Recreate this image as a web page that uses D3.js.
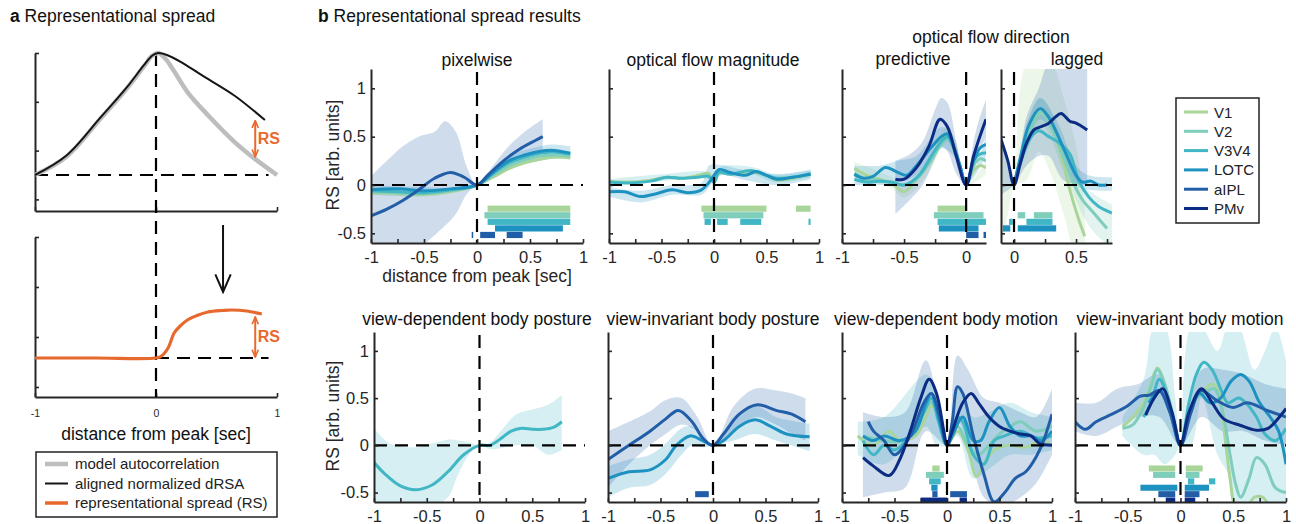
<!DOCTYPE html>
<html>
<head>
<meta charset="utf-8">
<script src="https://cdn.jsdelivr.net/npm/d3@7"></script>
<style>
  body { margin: 0; background: #fff; }
  svg { display: block; font-family: "Liberation Sans", Arial, Helvetica, sans-serif; }
</style>
</head>
<body>
<svg id="fig" width="1296" height="524"></svg>
<script>
// ---------- data ----------
const regions = ["V1", "V2", "V3V4", "LOTC", "aIPL", "PMv"];
const regionColors = ["#a9d59b", "#7fcdbb", "#41b6c4", "#1d91c0", "#225ea8", "#0c2c84"];
const xTickVals = [-1, -0.75, -0.5, -0.25, 0, 0.25, 0.5, 0.75, 1];
const yTickVals = [-0.5, 0, 0.5, 1];

// panel a (schematic)
const modelAuto = [[-1,0],[-0.74,0.15],[-0.46,0.46],[-0.24,0.71],[-0.1,0.89],[-0.03,0.98],[0.02,1],[0.08,0.95],[0.15,0.85],[0.26,0.68],[0.43,0.49],[0.65,0.27],[0.82,0.13],[1,0]];
const alignedDRSA = [[-1,0],[-0.74,0.16],[-0.46,0.47],[-0.24,0.72],[-0.1,0.9],[-0.03,0.98],[0.02,1],[0.1,0.98],[0.2,0.93],[0.375,0.82],[0.65,0.65],[0.9,0.45]];
const rsCurve = [[-1,0],[-0.5,0],[0,0],[0.04,0.03],[0.1,0.2],[0.15,0.5],[0.2,0.64],[0.26,0.76],[0.35,0.86],[0.43,0.92],[0.55,0.95],[0.625,0.96],[0.75,0.94],[0.875,0.88]];
const legendA = ["model autocorrelation", "aligned normalized dRSA", "representational spread (RS)"];

// pixelwise
const pxV1 = [[-1,-0.08],[-0.75,-0.09],[-0.5,-0.1],[-0.25,-0.07],[0,0],[0.15,0.08],[0.3,0.17],[0.45,0.23],[0.6,0.27],[0.75,0.29],[0.88,0.28]];
const pxV2 = [[-1,-0.07],[-0.75,-0.08],[-0.5,-0.09],[-0.25,-0.06],[0,0],[0.15,0.1],[0.3,0.2],[0.45,0.26],[0.6,0.3],[0.75,0.31],[0.88,0.3]];
const pxV3V4 = [[-1,-0.06],[-0.75,-0.07],[-0.5,-0.08],[-0.25,-0.05],[0,0],[0.15,0.12],[0.3,0.23],[0.45,0.29],[0.6,0.33],[0.75,0.34],[0.88,0.32]];
const pxLOTC = [[-1,-0.05],[-0.75,-0.04],[-0.5,-0.06],[-0.25,-0.04],[0,0],[0.15,0.13],[0.3,0.25],[0.45,0.31],[0.6,0.35],[0.7,0.36],[0.88,0.33]];
const pxAIPL = [[-1,-0.32],[-0.85,-0.25],[-0.7,-0.16],[-0.55,-0.05],[-0.4,0.07],[-0.25,0.13],[-0.12,0.08],[0,0],[0.1,0.1],[0.25,0.25],[0.4,0.37],[0.55,0.46],[0.62,0.5]];
const pxLOTCband = [[-1,-0.1,0],[-0.5,-0.11,-0.02],[0,0,0],[0.3,0.18,0.3],[0.6,0.25,0.4],[0.7,0.27,0.42],[0.88,0.27,0.4]];
const pxAIPLband = [[-1,-0.7,0.09],[-0.85,-0.7,0.25],[-0.7,-0.7,0.4],[-0.55,-0.65,0.5],[-0.4,-0.52,0.55],[-0.3,-0.42,0.66],[-0.2,-0.3,0.55],[-0.1,-0.1,0.2],[0,0,0],[0.15,0.08,0.2],[0.3,0.2,0.4],[0.45,0.3,0.55],[0.62,0.36,0.68]];
const pxSig = [[0,0.1,0.88],[1,0.07,0.88],[2,0.1,0.88],[3,0.17,0.81],[4,-0.05,-0.04],[4,0.03,0.17],[4,0.28,0.43]];

// optical flow magnitude
const ofV1 = [[-1,0.04],[-0.8,0.03],[-0.6,0.05],[-0.45,0.08],[-0.3,0.07],[-0.15,0.1],[-0.05,0.12],[0,0.03],[0.05,0.14],[0.15,0.12],[0.3,0.12],[0.4,0.13],[0.5,0.1],[0.6,0.05],[0.75,0.07],[0.92,0.11]];
const ofV3V4 = [[-1,0.03],[-0.8,0.02],[-0.6,0.04],[-0.45,0.08],[-0.3,0.07],[-0.15,0.08],[-0.05,0.09],[0,0.03],[0.05,0.13],[0.15,0.11],[0.35,0.15],[0.5,0.1],[0.6,0.07],[0.75,0.08],[0.92,0.12]];
const ofLOTC = [[-1,-0.07],[-0.85,-0.07],[-0.7,-0.12],[-0.55,-0.09],[-0.4,-0.05],[-0.25,-0.08],[-0.12,-0.05],[-0.03,0.05],[0.05,0.16],[0.15,0.13],[0.3,0.1],[0.4,0.14],[0.5,0.1],[0.6,0.06],[0.75,0.08],[0.92,0.11]];
const ofV3V4band = [[-1,0,0.06],[-0.5,0.04,0.11],[-0.05,0.06,0.13],[0,0,0.06],[0.05,0.09,0.18],[0.35,0.11,0.19],[0.6,0.03,0.11],[0.92,0.08,0.15]];
const ofLOTCband = [[-1,-0.12,-0.02],[-0.7,-0.18,-0.06],[-0.4,-0.1,0],[-0.12,-0.1,0.02],[-0.05,-0.03,0.2],[0.05,0.1,0.21],[0.3,0.05,0.15],[0.6,0.0,0.11],[0.92,0.06,0.16]];
const ofSig = [[0,-0.12,0.5],[0,0.78,0.92],[1,-0.1,0.47],[2,-0.09,-0.03],[2,0.03,0.13],[2,0.25,0.45],[2,0.9,0.92]];

// optical flow direction, predictive
const prV1 = [[-0.9,0.17],[-0.8,0.1],[-0.7,0.06],[-0.6,0.02],[-0.5,-0.07],[-0.42,0.03],[-0.32,0.2],[-0.22,0.42],[-0.15,0.52],[-0.1,0.42],[-0.05,0.2],[0,0],[0.06,0.15],[0.11,0.2],[0.16,0.18]];
const prV2 = [[-0.9,0.12],[-0.8,0.06],[-0.7,0.05],[-0.6,0.02],[-0.5,0],[-0.4,0.06],[-0.3,0.22],[-0.2,0.42],[-0.15,0.48],[-0.1,0.38],[-0.05,0.2],[0,0],[0.06,0.2],[0.11,0.27],[0.16,0.25]];
const prV3V4 = [[-0.9,0.06],[-0.8,0.03],[-0.7,0.04],[-0.6,0.03],[-0.5,0],[-0.38,0.1],[-0.28,0.3],[-0.2,0.45],[-0.15,0.5],[-0.1,0.38],[-0.05,0.2],[0,0],[0.06,0.25],[0.11,0.32],[0.16,0.33]];
const prLOTC = [[-0.9,0.11],[-0.83,0.07],[-0.75,0.09],[-0.65,0.18],[-0.55,0.13],[-0.48,0.1],[-0.4,0.2],[-0.3,0.36],[-0.2,0.5],[-0.15,0.53],[-0.1,0.4],[-0.05,0.2],[0,0],[0.06,0.25],[0.11,0.38],[0.16,0.42]];
const prPMv = [[-0.57,0.06],[-0.5,0.06],[-0.4,0.18],[-0.3,0.4],[-0.21,0.68],[-0.15,0.6],[-0.08,0.3],[0,0],[0.06,0.3],[0.11,0.5],[0.16,0.68]];
const prV1band = [[-0.9,0.1,0.24],[-0.6,-0.04,0.08],[-0.5,-0.13,-0.01],[-0.3,0.13,0.27],[-0.15,0.45,0.59],[0,0,0],[0.16,0.11,0.25]];
const prLOTCband = [[-0.9,0,0.2],[-0.7,0,0.2],[-0.55,0.02,0.25],[-0.4,0.1,0.3],[-0.2,0.38,0.6],[-0.1,0.3,0.5],[0,0,0],[0.16,0.3,0.5]];
const prPMvBand = [[-0.57,-0.3,0.25],[-0.45,-0.15,0.32],[-0.35,0,0.45],[-0.25,0.28,0.78],[-0.2,0.4,0.9],[-0.15,0.35,0.85],[-0.08,0.12,0.45],[0,0,0],[0.06,0.15,0.45],[0.11,0.35,0.7],[0.16,0.5,0.88]];
const prSig = [[0,-0.23,0],[1,-0.26,0.14],[2,-0.23,0.16],[3,-0.22,0.1],[4,0,0.1],[4,0.14,0.16]];

// optical flow direction, lagged
const lgV1 = [[0,0],[0.07,0.35],[0.14,0.6],[0.22,0.75],[0.3,0.6],[0.38,0.3],[0.45,-0.05],[0.52,-0.35],[0.57,-0.53]];
const lgV2 = [[0,0],[0.07,0.35],[0.14,0.6],[0.22,0.76],[0.3,0.6],[0.4,0.28],[0.48,0.02],[0.55,-0.15],[0.65,-0.3],[0.75,-0.45]];
const lgV3V4 = [[0,0],[0.07,0.3],[0.14,0.5],[0.2,0.56],[0.28,0.5],[0.36,0.44],[0.45,0.32],[0.52,0.05],[0.6,-0.12],[0.68,-0.22],[0.79,-0.29]];
const lgLOTC = [[0,0],[0.06,0.33],[0.12,0.62],[0.21,0.79],[0.27,0.72],[0.34,0.55],[0.42,0.32],[0.5,0.1],[0.55,0.03],[0.62,0.04],[0.68,0],[0.75,0]];
const lgPMv = [[-0.105,0.47],[-0.05,0.25],[0,0],[0.05,0.22],[0.1,0.43],[0.16,0.57],[0.21,0.6],[0.28,0.64],[0.33,0.7],[0.38,0.74],[0.45,0.66],[0.5,0.64],[0.59,0.57]];
const lgV1band = [[-0.105,-0.7,0.55],[-0.02,-0.1,0.1],[0,0,0],[0.1,0.05,1.25],[0.2,0.35,1.25],[0.3,0.1,1.25],[0.4,-0.3,0.9],[0.5,-0.7,0.4],[0.57,-0.7,-0.2]];
const lgV2band = [[0,0,0],[0.1,0.35,0.6],[0.22,0.62,0.9],[0.4,0.15,0.42],[0.55,-0.3,0.0],[0.65,-0.5,-0.1],[0.79,-0.65,-0.2]];
const lgLOTCband = [[0,0,0],[0.1,0.4,0.62],[0.21,0.68,0.9],[0.35,0.45,0.65],[0.5,0.0,0.2],[0.6,-0.05,0.1],[0.79,-0.06,0.08]];
const lgPMvBand = [[-0.105,-0.1,0.6],[0,0,0],[0.1,0.2,0.7],[0.2,0.3,1.0],[0.28,0.3,1.25],[0.4,0.05,1.25],[0.59,0.0,1.25]];
const lgSig = [[1,0.03,0.09],[1,0.16,0.31],[2,-0.04,-0.01],[2,0.1,0.31],[3,-0.09,-0.03],[3,0.03,0.34]];

// view-dependent body posture
const bp1V3V4 = [[-1,-0.18],[-0.9,-0.3],[-0.75,-0.43],[-0.6,-0.47],[-0.45,-0.42],[-0.3,-0.28],[-0.15,-0.1],[0,0],[0.1,0],[0.2,0.07],[0.3,0.15],[0.4,0.18],[0.5,0.17],[0.6,0.17],[0.7,0.19],[0.78,0.25]];
const bp1V3V4band = [[-1,-0.65,0.18],[-0.85,-0.65,0.02],[-0.6,-0.65,-0.02],[-0.45,-0.65,0.02],[-0.3,-0.55,0.06],[-0.2,-0.3,0.05],[-0.1,-0.1,0.03],[0,0,0],[0.1,-0.04,0.03],[0.2,-0.03,0.15],[0.35,0,0.33],[0.5,0,0.38],[0.65,-0.1,0.43],[0.78,-0.05,0.53]];

// view-invariant body posture
const bp2LOTC = [[-1,-0.35],[-0.8,-0.28],[-0.6,-0.26],[-0.45,-0.15],[-0.35,0],[-0.22,0.1],[-0.1,0.05],[0,0],[0.1,0.05],[0.25,0.2],[0.4,0.27],[0.55,0.2],[0.7,0.12],[0.92,0.09]];
const bp2AIPL = [[-1,-0.15],[-0.8,0],[-0.6,0.15],[-0.45,0.28],[-0.33,0.37],[-0.2,0.25],[-0.1,0.08],[0,0],[0.1,0.12],[0.25,0.33],[0.42,0.43],[0.6,0.37],[0.75,0.33],[0.88,0.25]];
const bp2LOTCband = [[-1,-0.55,-0.22],[-0.8,-0.45,-0.15],[-0.6,-0.42,-0.1],[-0.45,-0.3,0.02],[-0.3,-0.1,0.18],[-0.2,0,0.2],[-0.1,-0.02,0.1],[0,0,0],[0.2,0.05,0.3],[0.4,0.12,0.42],[0.6,0.05,0.3],[0.8,-0.02,0.25],[0.92,-0.06,0.23]];
const bp2AIPLband = [[-1,-0.45,0.15],[-0.8,-0.2,0.25],[-0.6,0,0.36],[-0.45,0.12,0.48],[-0.3,0.22,0.5],[-0.15,0.15,0.3],[0,0,0],[0.2,0.15,0.42],[0.4,0.3,0.6],[0.6,0.22,0.58],[0.75,0.12,0.55],[0.88,0.05,0.5]];
const bp2Sig = [[4,-0.17,-0.04]];

// view-dependent body motion
const bm1V1 = [[-0.85,0.1],[-0.7,0],[-0.55,0.15],[-0.45,0.05],[-0.3,0.1],[-0.2,0.3],[-0.15,0.42],[-0.05,0.2],[0,0],[0.1,0.15],[0.2,-0.05],[0.28,-0.33],[0.35,-0.2],[0.45,-0.05],[0.6,0],[0.75,-0.02],[0.9,0.05],[1,0]];
const bm1V2 = [[-0.8,0.1],[-0.6,0.05],[-0.4,0.05],[-0.25,0.3],[-0.15,0.45],[-0.05,0.2],[0,0],[0.1,0.2],[0.2,0],[0.3,-0.1],[0.4,0],[0.5,0.12],[0.6,0.2],[0.7,0.25],[0.85,0.15],[1,0.2]];
const bm1V3V4 = [[-0.8,0.05],[-0.7,-0.1],[-0.6,0],[-0.5,-0.05],[-0.35,0.1],[-0.22,0.35],[-0.15,0.5],[-0.08,0.25],[0,0],[0.1,0.3],[0.15,0.25],[0.25,-0.1],[0.35,-0.2],[0.45,0.05],[0.55,0.1],[0.7,0.15],[0.85,0.08],[1,0.1]];
const bm1LOTC = [[-0.8,0.1],[-0.7,0.05],[-0.6,0.1],[-0.45,0.05],[-0.3,0.15],[-0.2,0.45],[-0.15,0.55],[-0.08,0.3],[0,0],[0.05,0.1],[0.15,0.3],[0.25,0.05],[0.32,0.05],[0.4,0.25],[0.5,0.4],[0.6,0.2],[0.7,0.1],[0.8,0.1],[0.9,0.05],[1,0.15]];
const bm1AIPL = [[-0.75,0.25],[-0.7,0.15],[-0.6,0.05],[-0.5,-0.1],[-0.35,0.1],[-0.22,0.45],[-0.15,0.55],[-0.08,0.35],[0,0],[0.05,0.25],[0.1,0.62],[0.15,0.55],[0.25,0.1],[0.35,-0.3],[0.45,-0.6],[0.55,-0.5],[0.65,-0.35],[0.75,-0.28],[0.85,-0.12],[0.92,0.05],[1,0.33]];
const bm1PMv = [[-0.8,-0.13],[-0.7,-0.22],[-0.55,-0.32],[-0.45,-0.15],[-0.35,0.15],[-0.25,0.5],[-0.17,0.7],[-0.1,0.55],[-0.03,0.15],[0,0],[0.05,0.15],[0.15,0.45],[0.23,0.55],[0.3,0.45],[0.4,0.3],[0.5,0.2],[0.6,0.15],[0.7,0.12],[0.8,0.1],[0.88,0.02],[1,0]];
const bm1V3V4band = [[-0.85,-0.1,0.25],[-0.6,-0.2,0.3],[-0.2,0.2,0.75],[-0.1,0,0.6],[0,0,0],[0.1,0.1,0.6],[0.25,-0.35,0.3],[0.4,-0.25,0.35],[0.6,-0.1,0.45],[0.8,-0.1,0.35],[1,-0.05,0.3]];
const bm1AIPLband = [[-0.8,-0.55,0.35],[-0.6,-0.5,0.3],[-0.4,-0.45,0.35],[-0.2,0.15,0.9],[0,0,0],[0.1,0.25,0.95],[0.2,0,0.8],[0.35,-0.55,0.5],[0.5,-0.65,0.45],[0.7,-0.55,0.35],[0.85,-0.4,0.3],[1,-0.1,0.6]];
const bm1Sig = [[0,-0.14,-0.07],[1,-0.2,-0.03],[2,-0.17,-0.06],[3,-0.15,-0.09],[4,-0.14,-0.09],[4,0.03,0.19],[5,-0.25,0],[5,0.12,0.19]];

// view-invariant body motion
const bm2V1 = [[-0.55,0.2],[-0.45,0.3],[-0.35,0.45],[-0.28,0.65],[-0.22,0.82],[-0.15,0.65],[-0.07,0.3],[0,0],[0.08,0.3],[0.15,0.5],[0.22,0.58],[0.3,0.65],[0.37,0.55],[0.42,0.1],[0.47,-0.35],[0.52,-0.65],[0.6,-0.7],[0.7,-0.55],[0.78,-0.55],[0.88,-0.7],[1,-0.7]];
const bm2V2 = [[-0.55,0.18],[-0.45,0.22],[-0.35,0.4],[-0.28,0.62],[-0.22,0.8],[-0.15,0.65],[-0.07,0.3],[0,0],[0.08,0.3],[0.15,0.5],[0.22,0.55],[0.32,0.6],[0.4,0.35],[0.47,-0.1],[0.52,-0.4],[0.57,-0.55],[0.65,-0.35],[0.72,-0.13],[0.8,-0.2],[0.9,-0.45],[1,-0.5]];
const bm2V3V4 = [[-0.35,0.3],[-0.28,0.45],[-0.2,0.7],[-0.12,0.5],[-0.05,0.2],[0,0],[0.08,0.45],[0.15,0.75],[0.22,0.88],[0.3,0.8],[0.38,0.6],[0.45,0.45],[0.55,0.5],[0.62,0.45],[0.72,0.3],[0.8,0.12],[0.9,0.05],[1,0.18]];
const bm2LOTC = [[-0.3,0.45],[-0.2,0.58],[-0.1,0.35],[0,0],[0.08,0.3],[0.18,0.55],[0.28,0.45],[0.38,0.5],[0.48,0.68],[0.57,0.75],[0.65,0.68],[0.75,0.45],[0.85,0.3],[0.93,0.15],[1,-0.2]];
const bm2AIPL = [[-1,0.25],[-0.9,0.17],[-0.8,0.25],[-0.65,0.33],[-0.5,0.42],[-0.38,0.52],[-0.3,0.53],[-0.2,0.58],[-0.1,0.35],[0,0],[0.1,0.35],[0.19,0.58],[0.35,0.47],[0.5,0.4],[0.63,0.45],[0.82,0.37],[1,0.3]];
const bm2PMv = [[-0.33,0.32],[-0.25,0.5],[-0.17,0.6],[-0.08,0.35],[0,0],[0.08,0.35],[0.2,0.6],[0.3,0.45],[0.41,0.28],[0.57,0.21],[0.72,0.16],[0.83,0.18],[1,0.39]];
const bm2V3V4band = [[-0.55,0.1,0.3],[-0.35,-0.1,0.7],[-0.25,-0.1,1.25],[-0.15,-0.2,1.25],[-0.05,-0.1,0.5],[0,0,0],[0.1,0,1.25],[0.2,0.5,1.25],[0.35,-0.1,1],[0.45,-0.3,1.25],[0.55,-0.7,1.25],[0.7,-0.7,0.8],[0.8,-0.7,1],[0.9,-0.7,1.25],[1,-0.7,0.9]];
const bm2AIPLband = [[-1,0.15,0.45],[-0.8,0.1,0.45],[-0.6,0.2,0.6],[-0.4,0.3,0.65],[-0.2,0.3,0.75],[0,0,0],[0.2,0.3,0.8],[0.4,0.15,0.8],[0.6,0.15,0.75],[0.8,0.05,0.65],[1,0,0.6]];
const bm2Sig = [[0,-0.3,-0.05],[0,0.05,0.21],[1,-0.26,-0.05],[1,0.05,0.18],[2,0.07,0.13],[2,0.27,0.33],[3,-0.38,-0.03],[3,0.04,0.27],[4,-0.21,-0.05],[4,0.04,0.18],[5,-0.14,-0.05],[5,0.04,0.14]];

// ---------- layout ----------
const svg = d3.select("#fig");
const defs = svg.append("defs");
const axisColor = "#262626";
const rsColor = "#e8692e";
const smooth = d3.curveCatmullRom.alpha(0.5);

function addMarker(id, color, size, sw) {
  defs.append("marker").attr("id", id)
    .attr("viewBox", "0 0 10 10").attr("refX", 9).attr("refY", 5)
    .attr("markerWidth", size).attr("markerHeight", size)
    .attr("markerUnits", "userSpaceOnUse").attr("orient", "auto-start-reverse")
    .append("path").attr("d", "M1,1.5 L9,5 L1,8.5")
    .attr("fill", "none").attr("stroke", color).attr("stroke-width", sw);
}
addMarker("headRS", rsColor, 9, 1.8);
addMarker("headBlack", "#111", 22, 0.9);

function styleAxis(g) {
  g.select(".domain").attr("stroke", axisColor).attr("stroke-width", 2);
  g.selectAll(".tick line").attr("stroke", axisColor).attr("stroke-width", 1.6);
  g.selectAll(".tick text").attr("fill", axisColor);
}

function dashed(g, x1, y1, x2, y2) {
  g.append("line").attr("x1", x1).attr("y1", y1).attr("x2", x2).attr("y2", y2)
    .attr("stroke", "#000").attr("stroke-width", 2.2).attr("stroke-dasharray", "13,8");
}

// ---------- panel a ----------
const gA = svg.append("g");
gA.append("text").attr("x", 10).attr("y", 22).attr("font-size", 17.5).attr("fill", "#111")
  .html('<tspan font-weight="bold">a</tspan> Representational spread');

const axA = d3.scaleLinear().domain([-1, 1]).range([35, 277]);
const ayTop = d3.scaleLinear().domain([-0.295, 1]).range([211, 53]);
const ayBot = d3.scaleLinear().domain([-0.78, 2.42]).range([397, 237]);

gA.append("g").attr("transform", `translate(0,${ayTop.range()[0]})`)
  .call(d3.axisBottom(axA).tickValues([-1, 0, 1]).tickSize(-4).tickSizeOuter(0).tickFormat(""))
  .call(styleAxis);
gA.append("g").attr("transform", `translate(${axA.range()[0]},0)`)
  .call(d3.axisLeft(ayTop).tickValues([-0.2, 0.2, 0.6, 1]).tickSize(-4).tickSizeOuter(0).tickFormat(""))
  .call(styleAxis);
const gAbx = gA.append("g").attr("transform", `translate(0,${ayBot.range()[0]})`)
  .call(d3.axisBottom(axA).tickValues([-1, 0, 1]).tickSize(-4).tickSizeOuter(0).tickPadding(13).tickFormat(d => String(d)))
  .call(styleAxis);
gAbx.selectAll(".tick text").attr("font-size", 10.5).attr("font-family", null);
gA.append("g").attr("transform", `translate(${axA.range()[0]},0)`)
  .call(d3.axisLeft(ayBot).tickValues([-0.58, 0.42, 1.42, 2.42]).tickSize(-4).tickSizeOuter(0).tickFormat(""))
  .call(styleAxis);

const lineTop = d3.line().x(d => axA(d[0])).y(d => ayTop(d[1])).curve(smooth);
const lineBot = d3.line().x(d => axA(d[0])).y(d => ayBot(d[1])).curve(smooth);

dashed(gA, axA(-1), ayTop(0), axA(0.93), ayTop(0));
dashed(gA, axA(0), ayBot(0), axA(0.93), ayBot(0));
dashed(gA, axA(0), ayTop(1), axA(0), ayBot(-0.78));

gA.append("path").attr("d", lineTop(modelAuto)).attr("fill", "none")
  .attr("stroke", "#bdbdbd").attr("stroke-width", 4.5);
gA.append("path").attr("d", lineTop(alignedDRSA)).attr("fill", "none")
  .attr("stroke", "#151515").attr("stroke-width", 2);
gA.append("path").attr("d", lineBot(rsCurve)).attr("fill", "none")
  .attr("stroke", rsColor).attr("stroke-width", 3.2);

// RS arrows
gA.append("line").attr("x1", axA(0.82)).attr("x2", axA(0.82)).attr("y1", ayTop(0.445)).attr("y2", ayTop(0.15))
  .attr("stroke", rsColor).attr("stroke-width", 2)
  .attr("marker-start", "url(#headRS)").attr("marker-end", "url(#headRS)");
gA.append("text").attr("x", axA(0.84)).attr("y", 144).attr("font-size", 16).attr("font-weight", "bold")
  .attr("fill", rsColor).text("RS");
gA.append("line").attr("x1", axA(0.82)).attr("x2", axA(0.82)).attr("y1", ayBot(0.82)).attr("y2", ayBot(0.02))
  .attr("stroke", rsColor).attr("stroke-width", 2)
  .attr("marker-start", "url(#headRS)").attr("marker-end", "url(#headRS)");
gA.append("text").attr("x", axA(0.84)).attr("y", 342).attr("font-size", 16).attr("font-weight", "bold")
  .attr("fill", rsColor).text("RS");

// big arrow between the two schematics
gA.append("line").attr("x1", axA(0.554)).attr("x2", axA(0.554)).attr("y1", 225).attr("y2", 292)
  .attr("stroke", "#111").attr("stroke-width", 2).attr("marker-end", "url(#headBlack)");

gA.append("text").attr("x", axA(0)).attr("y", 440).attr("text-anchor", "middle")
  .attr("font-size", 17.5).attr("fill", "#111").text("distance from peak [sec]");

// legend a
gA.append("rect").attr("x", 36).attr("y", 452).attr("width", 241).attr("height", 65)
  .attr("fill", "#fff").attr("stroke", "#222").attr("stroke-width", 1.5);
const legAStroke = [["#bdbdbd", 4.5], ["#151515", 2], [rsColor, 3.5]];
legendA.forEach((t, i) => {
  const y = 464 + i * 19.5;
  gA.append("line").attr("x1", 45).attr("x2", 68).attr("y1", y).attr("y2", y)
    .attr("stroke", legAStroke[i][0]).attr("stroke-width", legAStroke[i][1]);
  gA.append("text").attr("x", 75).attr("y", y + 5).attr("font-size", 15).attr("fill", "#222").text(t);
});

// ---------- panel b ----------
svg.append("text").attr("x", 318).attr("y", 22).attr("font-size", 17.5).attr("fill", "#111")
  .html('<tspan font-weight="bold">b</tspan> Representational spread results');

const rows = [{ y: [243, 69] }, { y: [502, 332] }];
const yDomain = [-0.6, 1.2];

const panels = [
  { title: "pixelwise", tx: 477, ty: 66, x: [371, 583], dom: [-1, 1], row: 0, yLab: true,
    series: [[0, pxV1], [1, pxV2], [2, pxV3V4], [3, pxLOTC], [4, pxAIPL]],
    bands: [[3, pxLOTCband], [4, pxAIPLband]], sig: pxSig },
  { title: "optical flow magnitude", tx: 713, ty: 66, x: [609, 819], dom: [-1, 1], row: 0,
    series: [[0, ofV1], [2, ofV3V4], [3, ofLOTC]],
    bands: [[2, ofV3V4band], [3, ofLOTCband]], sig: ofSig },
  { title: "predictive", tx: 913, ty: 65, x: [842, 986], dom: [-1, 0.16], row: 0,
    series: [[0, prV1], [1, prV2], [2, prV3V4], [3, prLOTC], [5, prPMv]],
    bands: [[0, prV1band], [3, prLOTCband], [4, prPMvBand]], sig: prSig },
  { title: "lagged", tx: 1077, ty: 65, x: [1001, 1112], dom: [-0.105, 0.79], row: 0,
    series: [[0, lgV1], [1, lgV2], [2, lgV3V4], [3, lgLOTC], [5, lgPMv]],
    bands: [[0, lgV1band], [1, lgV2band], [3, lgLOTCband], [4, lgPMvBand]], sig: lgSig },
  { title: "view-dependent body posture", tx: 477, ty: 325, x: [374, 585], dom: [-1, 1], row: 1, yLab: true,
    series: [[2, bp1V3V4]], bands: [[2, bp1V3V4band]], sig: [] },
  { title: "view-invariant body posture", tx: 713, ty: 325, x: [608, 818], dom: [-1, 1], row: 1,
    series: [[3, bp2LOTC], [4, bp2AIPL]], bands: [[3, bp2LOTCband], [4, bp2AIPLband]], sig: bp2Sig },
  { title: "view-dependent body motion", tx: 946, ty: 325, x: [842, 1052], dom: [-1, 1], row: 1,
    series: [[0, bm1V1], [1, bm1V2], [2, bm1V3V4], [3, bm1LOTC], [4, bm1AIPL], [5, bm1PMv]],
    bands: [[2, bm1V3V4band], [4, bm1AIPLband]], sig: bm1Sig },
  { title: "view-invariant body motion", tx: 1180, ty: 325, x: [1075, 1286], dom: [-1, 1], row: 1,
    series: [[0, bm2V1], [1, bm2V2], [2, bm2V3V4], [3, bm2LOTC], [4, bm2AIPL], [5, bm2PMv]],
    bands: [[2, bm2V3V4band], [4, bm2AIPLband]], sig: bm2Sig }
];

const sigTop = -0.245, sigStep = 0.068, sigH = 0.064;

panels.forEach((p, k) => {
  const g = svg.append("g");
  const xs = d3.scaleLinear().domain(p.dom).range(p.x);
  const ys = d3.scaleLinear().domain(yDomain).range(rows[p.row].y);
  const top = ys(yDomain[1]), bot = ys(yDomain[0]);

  defs.append("clipPath").attr("id", "clip" + k).append("rect")
    .attr("x", p.x[0]).attr("y", top).attr("width", p.x[1] - p.x[0]).attr("height", bot - top);
  const plot = g.append("g").attr("clip-path", `url(#clip${k})`);

  const area = d3.area().x(d => xs(d[0])).y0(d => ys(d[1])).y1(d => ys(d[2])).curve(smooth);
  const line = d3.line().x(d => xs(d[0])).y(d => ys(d[1])).curve(smooth);

  p.bands.forEach(([ri, arr]) => {
    plot.append("path").attr("d", area(arr)).attr("fill", regionColors[ri]).attr("fill-opacity", 0.22);
  });
  p.series.forEach(([ri, arr]) => {
    plot.append("path").attr("d", line(arr)).attr("fill", "none")
      .attr("stroke", regionColors[ri]).attr("stroke-width", 3).attr("stroke-linejoin", "round");
  });
  p.sig.forEach(([ri, a, b]) => {
    const c = sigTop - sigStep * ri;
    plot.append("rect").attr("x", xs(a)).attr("width", Math.max(1.5, xs(b) - xs(a)))
      .attr("y", ys(c + sigH / 2)).attr("height", ys(c - sigH / 2) - ys(c + sigH / 2))
      .attr("fill", regionColors[ri]);
  });

  dashed(g, p.x[0], ys(0), p.x[1], ys(0));
  dashed(g, xs(0), top + 3, xs(0), bot);

  const xt = xTickVals.filter(v => v >= p.dom[0] - 1e-9 && v <= p.dom[1] + 1e-9);
  const gx = g.append("g").attr("transform", `translate(0,${bot})`)
    .call(d3.axisBottom(xs).tickValues(xt).tickSize(-4).tickSizeOuter(0).tickPadding(8)
      .tickFormat(v => Math.abs(v * 2 - Math.round(v * 2)) < 1e-9 ? String(v) : ""))
    .call(styleAxis);
  gx.selectAll(".tick text").attr("font-size", 16.5).attr("font-family", null);
  const gy = g.append("g").attr("transform", `translate(${p.x[0]},0)`)
    .call(d3.axisLeft(ys).tickValues(yTickVals).tickSize(-4).tickSizeOuter(0).tickPadding(5)
      .tickFormat(p.yLab ? (v => String(v)) : ""))
    .call(styleAxis);
  gy.selectAll(".tick text").attr("font-size", 16.5).attr("font-family", null);

  g.append("text").attr("x", p.tx).attr("y", p.ty).attr("text-anchor", "middle")
    .attr("font-size", 17.5).attr("fill", "#111").text(p.title);

  if (p.yLab) {
    const cy = (top + bot) / 2 - 1;
    g.append("text").attr("transform", `translate(339,${cy}) rotate(-90)`)
      .attr("text-anchor", "middle").attr("font-size", 17.5).attr("fill", axisColor)
      .text("RS [arb. units]");
  }
});

svg.append("text").attr("x", 991).attr("y", 43).attr("text-anchor", "middle")
  .attr("font-size", 17.5).attr("fill", "#111").text("optical flow direction");
svg.append("text").attr("x", 477).attr("y", 282).attr("text-anchor", "middle")
  .attr("font-size", 17.5).attr("fill", axisColor).text("distance from peak [sec]");

// legend b
svg.append("rect").attr("x", 1176).attr("y", 98).attr("width", 83).attr("height", 125)
  .attr("fill", "#fff").attr("stroke", "#222").attr("stroke-width", 1.5);
regions.forEach((r, i) => {
  const y = 112 + i * 19.3;
  svg.append("line").attr("x1", 1184).attr("x2", 1208).attr("y1", y).attr("y2", y)
    .attr("stroke", regionColors[i]).attr("stroke-width", 3);
  svg.append("text").attr("x", 1214).attr("y", y + 5.5).attr("font-size", 15).attr("fill", "#222").text(r);
});
</script>
</body>
</html>
